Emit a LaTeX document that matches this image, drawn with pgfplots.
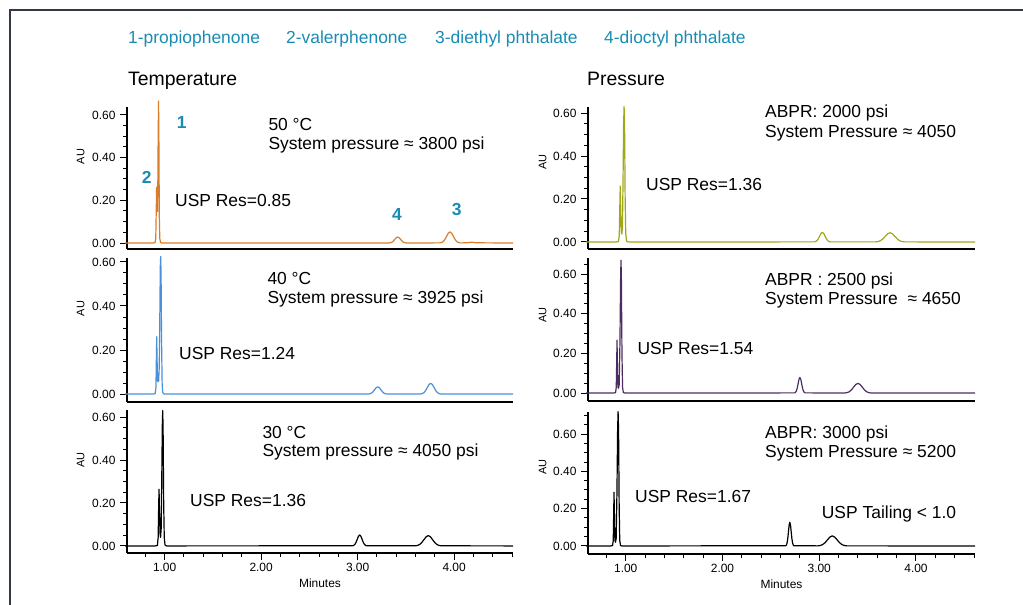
\documentclass[border=0pt]{standalone}
\usepackage{pgfplots}
\pgfplotsset{compat=1.18}
\usepackage{fontspec}
\setmainfont{Liberation Sans}
\definecolor{corange}{RGB}{217,125,45}
\definecolor{cblue}{RGB}{74,144,217}
\definecolor{colive}{RGB}{160,168,24}
\definecolor{cpurple}{RGB}{75,45,95}
\definecolor{cteal}{RGB}{26,140,180}
\definecolor{cframe}{RGB}{50,56,68}
\newcommand{\annfont}{\fontsize{17.5}{20}\selectfont}
\pgfplotsset{
  chrom/.style={
    scale only axis, clip=false,
    axis lines*=left,
    axis line style={black, line width=1.5bp},
    xmin=0.61, xmax=4.61,
    tick align=outside,
    major tick length=7bp, minor tick length=4bp,
    every tick/.style={black, line width=1bp},
    ytick={0,0.2,0.4,0.6},
    minor ytick={0.05,0.1,0.15,0.25,0.3,0.35,0.45,0.5,0.55,0.65,0.7},
    /pgf/number format/assume math mode=true,
    yticklabel style={font=\fontsize{12}{14}\selectfont, /pgf/number format/fixed, /pgf/number format/fixed zerofill, /pgf/number format/precision=2, xshift=-1bp},
    xticklabel style={font=\fontsize{12}{14}\selectfont, /pgf/number format/fixed, /pgf/number format/fixed zerofill, /pgf/number format/precision=2},
    ylabel={AU},
    ylabel style={font=\fontsize{11}{13}\selectfont, anchor=center},
    xtick=\empty,
  },
  bottomrow/.style={
    xtick={1,2,3,4},
    minor xtick={0.8,1.2,1.4,1.6,1.8,2.2,2.4,2.6,2.8,3.2,3.4,3.6,3.8,4.2,4.4,4.6},
    xlabel={Minutes},
    xlabel style={font=\fontsize{12}{14}\selectfont, at={(axis description cs:0.5,0)}, anchor=center, yshift=-30bp},
  },
  trace/.style={line width=1.2bp, line join=round},
}
\begin{document}
\begin{tikzpicture}
\useasboundingbox (0,0) rectangle (1023bp,605bp);
\draw[cframe, line width=2bp] (10bp,0) -- (10bp,595bp) -- (1023bp,595bp);

% ---------- Row 1 left: 50 C ----------
\begin{axis}[chrom, at={(127bp,356bp)}, anchor=south west, width=386bp, height=142bp,
  ymin=-0.028, ymax=0.637, ylabel style={at={(axis description cs:-0.12,0.65)}}]
\addplot[trace, corange] coordinates {
(0.59,0) (0.88,0) (0.900,0.002) (0.908,0.02) (0.913,0.15) (0.917,0.262) (0.921,0.20) (0.925,0.147)
(0.929,0.25) (0.933,0.50) (0.937,0.665) (0.941,0.45) (0.945,0.12) (0.950,0.02) (0.958,0.003) (0.97,0)
(3.325,0.0003) (3.340,0.0012) (3.355,0.0038) (3.370,0.0091) (3.385,0.0170) (3.400,0.0247) (3.415,0.0280)
(3.430,0.0247) (3.445,0.0170) (3.460,0.0091) (3.475,0.0038) (3.490,0.0012) (3.505,0.0003)
(3.852,0.0006) (3.8695,0.0023) (3.887,0.0070) (3.9045,0.0169) (3.922,0.0315) (3.9395,0.0459) (3.957,0.0520)
(3.9745,0.0459) (3.992,0.0315) (4.0095,0.0169) (4.027,0.0070) (4.0445,0.0023) (4.062,0.0006)
(4.13,0.001) (4.18,0.004) (4.23,0.001) (4.61,0)
};
\end{axis}

% ---------- Row 2 left: 40 C ----------
\begin{axis}[chrom, at={(127bp,203bp)}, anchor=south west, width=386bp, height=144bp,
  ymin=-0.036, ymax=0.618, ylabel style={at={(axis description cs:-0.12,0.65)}}]
\addplot[trace, cblue] coordinates {
(0.59,0) (0.88,0) (0.902,0.002) (0.910,0.03) (0.914,0.15) (0.918,0.26) (0.922,0.15) (0.927,0.06)
(0.932,0.056) (0.938,0.06) (0.944,0.12) (0.950,0.35) (0.955,0.58) (0.959,0.625) (0.963,0.55) (0.968,0.25)
(0.974,0.05) (0.980,0.008) (0.99,0.001) (1.01,0)
(3.112,0.0004) (3.128,0.0014) (3.144,0.0045) (3.160,0.0107) (3.176,0.0200) (3.192,0.0291) (3.208,0.0330)
(3.224,0.0291) (3.240,0.0200) (3.256,0.0107) (3.272,0.0045) (3.288,0.0014) (3.304,0.0004)
(3.652,0.0005) (3.6695,0.0022) (3.687,0.0066) (3.7045,0.0159) (3.722,0.0297) (3.7395,0.0432) (3.757,0.0490)
(3.7745,0.0432) (3.792,0.0297) (3.8095,0.0159) (3.827,0.0066) (3.8445,0.0022) (3.862,0.0005) (4.61,0)
};
\end{axis}

% ---------- Row 3 left: 30 C ----------
\begin{axis}[chrom, bottomrow, at={(127bp,52bp)}, anchor=south west, width=386bp, height=143bp,
  ymin=-0.033, ymax=0.633, ylabel style={at={(axis description cs:-0.12,0.65)}}]
\addplot[trace, black] coordinates {
(0.59,0) (0.90,0) (0.925,0.002) (0.933,0.04) (0.938,0.18) (0.942,0.264) (0.946,0.18) (0.952,0.06)
(0.958,0.04) (0.964,0.08) (0.970,0.30) (0.976,0.56) (0.980,0.63) (0.984,0.55) (0.990,0.20) (0.996,0.04)
(1.004,0.004) (1.02,0)
(2.946,0.0006) (2.9585,0.0022) (2.971,0.0069) (2.9835,0.0166) (2.996,0.0309) (3.0085,0.0450) (3.021,0.0510)
(3.0335,0.0450) (3.046,0.0309) (3.0585,0.0166) (3.071,0.0069) (3.0835,0.0022) (3.096,0.0006)
(3.597,0.0005) (3.6195,0.0021) (3.642,0.0065) (3.6645,0.0156) (3.687,0.0291) (3.7095,0.0424) (3.732,0.0480)
(3.7545,0.0424) (3.777,0.0291) (3.7995,0.0156) (3.822,0.0065) (3.8445,0.0021) (3.867,0.0005) (4.61,0)
};
\end{axis}

% ---------- Row 1 right: ABPR 2000 ----------
\begin{axis}[chrom, at={(588bp,356bp)}, anchor=south west, width=387bp, height=142bp,
  ymin=-0.0326, ymax=0.628, ylabel style={at={(axis description cs:-0.117,0.61)}}]
\addplot[trace, colive] coordinates {
(0.59,0) (0.90,0) (0.925,0.002) (0.933,0.03) (0.938,0.15) (0.943,0.26) (0.947,0.18) (0.953,0.05)
(0.960,0.037) (0.966,0.07) (0.972,0.28) (0.978,0.55) (0.983,0.63) (0.988,0.55) (0.994,0.20) (1.000,0.04)
(1.008,0.004) (1.025,0)
(2.948,0.0005) (2.962,0.0020) (2.976,0.0061) (2.990,0.0146) (3.004,0.0273) (3.018,0.0397) (3.032,0.0450)
(3.046,0.0397) (3.060,0.0273) (3.074,0.0146) (3.088,0.0061) (3.102,0.0020) (3.116,0.0005)
(3.582,0.0005) (3.607,0.0019) (3.632,0.0058) (3.657,0.0140) (3.682,0.0261) (3.707,0.0379) (3.732,0.0430)
(3.757,0.0379) (3.782,0.0261) (3.807,0.0140) (3.832,0.0058) (3.857,0.0019) (3.882,0.0005) (4.61,0)
};
\end{axis}

% ---------- Row 2 right: ABPR 2500 ----------
\begin{axis}[chrom, at={(588bp,204bp)}, anchor=south west, width=387bp, height=143bp,
  ymin=-0.040, ymax=0.681, ylabel style={at={(axis description cs:-0.117,0.60)}}]
\addplot[trace, cpurple] coordinates {
(0.59,0) (0.87,0) (0.895,0.002) (0.902,0.03) (0.907,0.17) (0.910,0.267) (0.913,0.17) (0.919,0.03)
(0.925,0.024) (0.932,0.04) (0.940,0.25) (0.947,0.58) (0.951,0.67) (0.955,0.58) (0.961,0.20) (0.967,0.03)
(0.975,0.003) (0.99,0)
(2.746,0.0009) (2.755,0.0035) (2.764,0.0107) (2.773,0.0257) (2.782,0.0479) (2.791,0.0697) (2.800,0.0790)
(2.809,0.0697) (2.818,0.0479) (2.827,0.0257) (2.836,0.0107) (2.845,0.0035) (2.854,0.0009)
(3.265,0.0005) (3.2875,0.0022) (3.310,0.0066) (3.3325,0.0159) (3.355,0.0297) (3.3775,0.0432) (3.400,0.0490)
(3.4225,0.0432) (3.445,0.0297) (3.4675,0.0159) (3.490,0.0066) (3.5125,0.0022) (3.535,0.0005) (4.61,0)
};
\end{axis}

% ---------- Row 3 right: ABPR 3000 ----------
\begin{axis}[chrom, bottomrow, at={(588bp,51bp)}, anchor=south west, width=387bp, height=142bp,
  ymin=-0.043, ymax=0.718, ylabel style={at={(axis description cs:-0.117,0.61)}}]
\addplot[trace, black] coordinates {
(0.59,0) (0.84,0) (0.864,0.002) (0.871,0.03) (0.876,0.19) (0.879,0.288) (0.882,0.19) (0.888,0.03)
(0.894,0.02) (0.901,0.04) (0.909,0.28) (0.916,0.62) (0.921,0.72) (0.926,0.62) (0.932,0.22) (0.938,0.03)
(0.946,0.003) (0.96,0)
(2.654,0.0014) (2.661,0.0056) (2.668,0.0172) (2.675,0.0412) (2.682,0.0770) (2.689,0.1121) (2.696,0.1270)
(2.703,0.1121) (2.710,0.0770) (2.717,0.0412) (2.724,0.0172) (2.731,0.0056) (2.738,0.0014)
(2.985,0.0006) (3.010,0.0024) (3.035,0.0073) (3.060,0.0175) (3.085,0.0328) (3.110,0.0477) (3.135,0.0540)
(3.160,0.0477) (3.185,0.0328) (3.210,0.0175) (3.235,0.0073) (3.260,0.0024) (3.285,0.0006) (4.61,0)
};
\end{axis}

% ---------- texts ----------
\begin{scope}[every node/.style={inner sep=0pt, anchor=base west}]
\node[cteal, font=\annfont] at (128bp,561bp) {1-propiophenone};
\node[cteal, font=\annfont] at (286bp,561bp) {2-valerphenone};
\node[cteal, font=\annfont] at (435bp,561bp) {3-diethyl phthalate};
\node[cteal, font=\annfont] at (604bp,561bp) {4-dioctyl phthalate};
\node[font=\fontsize{19.5}{22}\selectfont] at (128bp,519bp) {Temperature};
\node[font=\fontsize{19.5}{22}\selectfont] at (587bp,519bp) {Pressure};

\node[cteal, font=\annfont\bfseries] at (176.7bp,476bp) {1};
\node[cteal, font=\annfont\bfseries] at (141.7bp,421bp) {2};
\node[cteal, font=\annfont\bfseries] at (392bp,384bp) {4};
\node[cteal, font=\annfont\bfseries] at (451.7bp,389.3bp) {3};
\node[font=\annfont] at (268.3bp,474.7bp) {50 °C};
\node[font=\annfont] at (268.3bp,455.7bp) {System pressure ≈ 3800 psi};
\node[font=\annfont] at (175bp,398.7bp) {USP Res=0.85};

\node[font=\annfont] at (267.3bp,320.7bp) {40 °C};
\node[font=\annfont] at (267.3bp,301.7bp) {System pressure ≈ 3925 psi};
\node[font=\annfont] at (179bp,245.7bp) {USP Res=1.24};

\node[font=\annfont] at (262.3bp,166.7bp) {30 °C};
\node[font=\annfont] at (262.3bp,148.7bp) {System pressure ≈ 4050 psi};
\node[font=\annfont] at (190bp,98.7bp) {USP Res=1.36};

\node[font=\annfont] at (765bp,487.7bp) {ABPR: 2000 psi};
\node[font=\annfont] at (765bp,467.7bp) {System Pressure ≈ 4050};
\node[font=\annfont] at (646bp,414.7bp) {USP Res=1.36};

\node[font=\annfont] at (765bp,319.7bp) {ABPR : 2500 psi};
\node[font=\annfont] at (765bp,300.7bp) {System Pressure \ ≈ 4650};
\node[font=\annfont] at (637.3bp,250.7bp) {USP Res=1.54};

\node[font=\annfont] at (765bp,166.7bp) {ABPR: 3000 psi};
\node[font=\annfont] at (765bp,147.7bp) {System Pressure ≈ 5200};
\node[font=\annfont] at (635bp,102.7bp) {USP Res=1.67};
\node[font=\annfont] at (821.7bp,86.7bp) {USP Tailing < 1.0};
\end{scope}
\end{tikzpicture}
\end{document}
